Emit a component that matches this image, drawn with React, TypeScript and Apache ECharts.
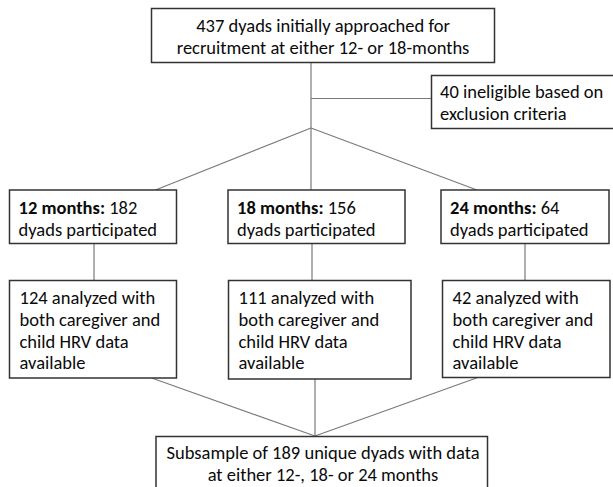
import React, { useEffect, useRef } from "react";
import * as echarts from "echarts";

// ---- content ----
const topText = ["437 dyads initially approached for", "recruitment at either 12- or 18-months"];
const exclusionText = ["40 ineligible based on", "exclusion criteria"];
const waveLabels = ["12 months:", "18 months:", "24 months:"];
const waveCounts = [182, 156, 64];
const analyzedCounts = [124, 111, 42];
const analyzedRest = ["both caregiver and", "child HRV data", "available"];
const finalText = ["Subsample of 189 unique dyads with data", "at either 12-, 18- or 24 months"];

// ---- layout ----
const FONT = "Carlito, Calibri, Lato, 'Open Sans', sans-serif";
const FS = 18.5;
const TXT = "#0a0a0a";
const BOX = "#333333";
const LINE = "#7a7a7a";

const topBox = { x: 151.5, y: 8.5, w: 343, h: 54 };
const exclBox = { x: 431.5, y: 75.5, w: 200, h: 53 };
const row2 = [
  { x: 9.5, y: 190, w: 167, h: 53.5 },
  { x: 228, y: 190, w: 177, h: 53.5 },
  { x: 441, y: 190, w: 168, h: 53.5 },
];
const row3 = [
  { x: 9.5, y: 280.5, w: 167, h: 97.5 },
  { x: 228.5, y: 280.5, w: 182.5, h: 98.5 },
  { x: 442.5, y: 280.5, w: 167.5, h: 97 },
];
const finalBox = { x: 156, y: 436.5, w: 331.5, h: 80 };

export default function App() {
  const ref = useRef<HTMLDivElement>(null);
  useEffect(() => {
    document.body.style.margin = "0";
    if (!ref.current) return;
    const chart = echarts.init(ref.current, undefined, { renderer: "svg" });

    const els: any[] = [];
    const rect = (b: any) =>
      els.push({
        type: "rect",
        shape: { x: b.x, y: b.y, width: b.w, height: b.h },
        style: { fill: "#fff", stroke: BOX, lineWidth: 1.5 },
        z: 2,
      });
    const line = (x1: number, y1: number, x2: number, y2: number) =>
      els.push({
        type: "line",
        shape: { x1, y1, x2, y2 },
        style: { stroke: LINE, lineWidth: 1.2 },
        z: 1,
      });
    const text = (
      lines: string[],
      x: number,
      yCenter: number,
      align: string,
      lh: number,
      rich?: any
    ) =>
      els.push({
        type: "text",
        x,
        y: yCenter,
        z: 3,
        style: {
          text: lines.join("\n"),
          fill: TXT,
          fontSize: FS,
          fontFamily: FONT,
          lineHeight: lh,
          align,
          verticalAlign: "middle",
          rich,
        },
      });

    // connectors
    const cx = 311;
    line(cx, topBox.y + topBox.h, cx, 190);
    line(cx, 98.5, exclBox.x, 98.5);
    line(cx, 128, 155.5, 190);
    line(cx, 128, 477, 190);
    const vx = [94, 312, 525];
    vx.forEach((x) => line(x, 243.5, x, 280.5));
    const jx = 315;
    const jy = 436;
    line(151.7, 378, jx, jy);
    line(jx, 379, jx, jy);
    line(477.8, 377.5, jx, jy);

    // boxes
    rect(topBox);
    rect(exclBox);
    row2.forEach(rect);
    row3.forEach(rect);
    rect(finalBox);

    // texts
    const tcx = topBox.x + topBox.w / 2;
    text(topText, tcx, 36.5, "center", 21.6);
    text(exclusionText, 440, 102.75, "left", 21.6);
    row2.forEach((b, i) => {
      const rich = {
        b: { fontWeight: "bold", fontSize: FS, fontFamily: FONT, fill: TXT, lineHeight: 22 },
        n: { fontSize: FS, fontFamily: FONT, fill: TXT, lineHeight: 22 },
      };
      text(
        [`{b|${waveLabels[i]}}{n| ${waveCounts[i]}}`, "{n|dyads participated}"],
        b.x + 9,
        218.5,
        "left",
        22,
        rich
      );
    });
    row3.forEach((b, i) => {
      const lines = [`${analyzedCounts[i]} analyzed with`, ...analyzedRest];
      text(lines, b.x + 10, 297.5 + 1.5 * 21.8, "left", 21.8);
    });
    text(finalText, 323, 463.5, "center", 21.6);

    chart.setOption({
      animation: false,
      backgroundColor: "#ffffff",
      graphic: { elements: els },
    });
    return () => chart.dispose();
  }, []);
  return <div ref={ref} style={{ width: 613, height: 487 }} />;
}
